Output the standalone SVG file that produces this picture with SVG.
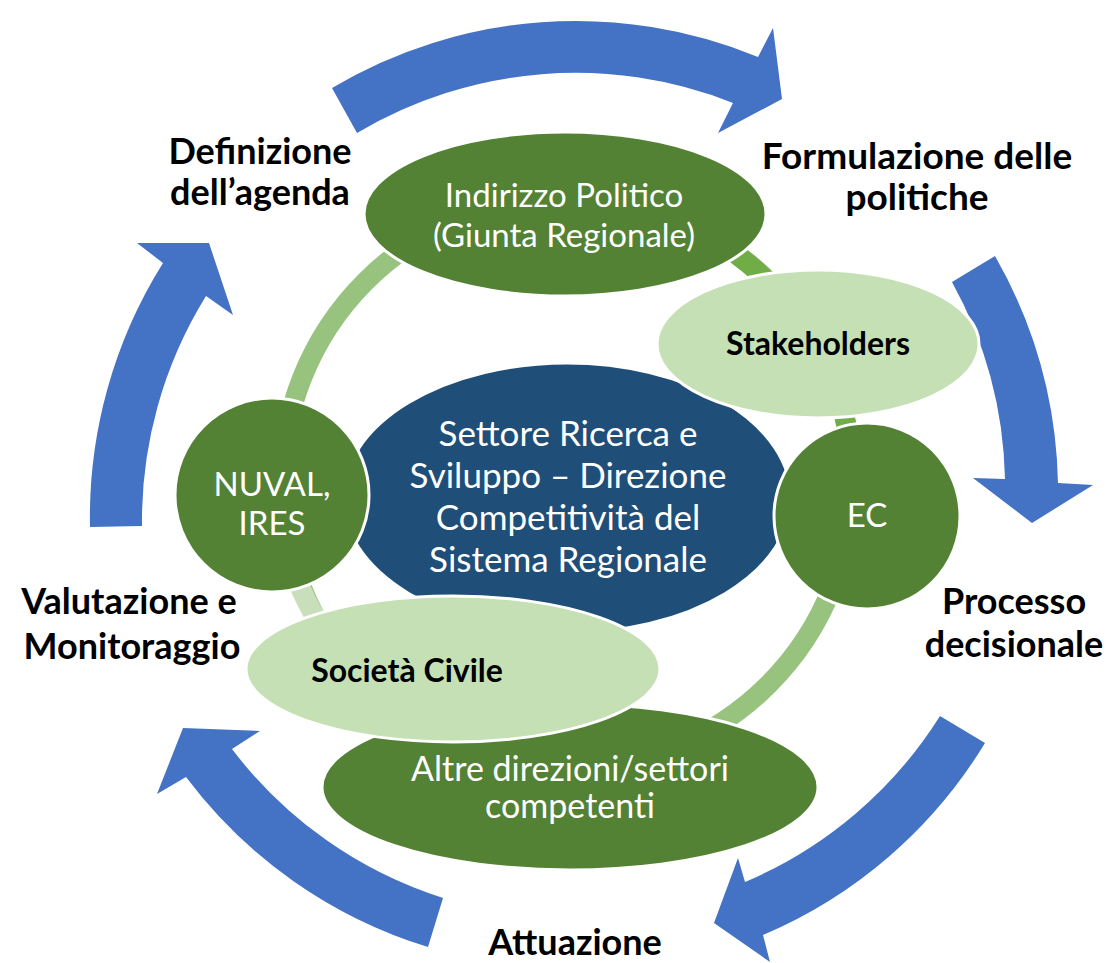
<svg xmlns="http://www.w3.org/2000/svg" width="1113" height="963" viewBox="0 0 1113 963">
<style>
.arrow{fill:#4472C4}
.dk{fill:#548235;stroke:#fff;stroke-width:3}
.lt{fill:#C5E0B4;stroke:#fff;stroke-width:3}
.bl{fill:#1F4E79;stroke:#fff;stroke-width:3}
.lbl{font-family:Lato,"Liberation Sans",sans-serif;font-weight:bold;font-size:36px;fill:#000;text-anchor:middle}
.wt{font-family:Lato,"Liberation Sans",sans-serif;font-size:33px;fill:#fff;text-anchor:middle}
.bk{font-family:Lato,"Liberation Sans",sans-serif;font-weight:bold;font-size:32px;fill:#000;text-anchor:middle}
</style>
<rect width="1113" height="963" fill="#fff"/>
<g id="connectors">
<circle cx="567" cy="483" r="285" fill="none" stroke="#97C37F" stroke-width="20"/>
<path d="M 724 246 A 285 285 0 0 1 848 432" fill="none" stroke="#70AD47" stroke-width="20"/>
<path d="M 290 560 A 285 285 0 0 0 330 640" fill="none" stroke="#C9DFBB" stroke-width="20"/>
<path class="arrow" d="M 332 88 A 478 478 0 0 1 758 57 L 773 28 L 782 99 L 718 133 L 733 103 A 427 427 0 0 0 357 133 Z"/>
<path class="arrow" d="M 995 256 A 478 478 0 0 1 1058 483 L 1093 485 L 1032 523 L 973 478 L 1005 479 A 427 427 0 0 0 952 282 Z"/>
<path class="arrow" d="M 985 743 A 478 478 0 0 1 763 935 L 770 962 L 714 923 L 738 858 L 745 882 A 427 427 0 0 0 940 716 Z"/>
<path class="arrow" d="M 428 947 A 478 478 0 0 1 186 777 L 157 794 L 183 728 L 260 731 L 232 749 A 427 427 0 0 0 443 898 Z"/>
<path class="arrow" d="M 90 527 A 478 478 0 0 1 163 263 L 137 243 L 209 243 L 233 315 L 206 296 A 427 427 0 0 0 142 526 Z"/>
</g>
<g id="center">
<ellipse class="bl" cx="567" cy="498" rx="224" ry="135"/>
<text class="wt" x="568" y="446" style="font-size:35px">Settore Ricerca e</text>
<text class="wt" x="568" y="488" style="font-size:35px">Sviluppo – Direzione</text>
<text class="wt" x="568" y="530" style="font-size:35px">Competitività del</text>
<text class="wt" x="568" y="572" style="font-size:35px">Sistema Regionale</text>
</g>
<g id="indirizzo">
<ellipse class="dk" cx="565" cy="214" rx="201" ry="82"/>
<text class="wt" x="564" y="207">Indirizzo Politico</text>
<text class="wt" x="564" y="247">(Giunta Regionale)</text>
</g>
<g id="stakeholders">
<ellipse class="lt" cx="818" cy="344" rx="161" ry="74"/>
<text class="bk" x="818" y="355">Stakeholders</text>
</g>
<g id="altre">
<ellipse class="dk" cx="570" cy="787" rx="248" ry="83"/>
<text class="wt" x="570" y="781" style="font-size:34px">Altre direzioni/settori</text>
<text class="wt" x="570" y="818" style="font-size:34px">competenti</text>
</g>
<g id="societa">
<ellipse class="lt" cx="453" cy="669" rx="207" ry="73"/>
<text class="bk" x="407" y="682">Società Civile</text>
</g>
<g id="nuval">
<circle class="dk" cx="272" cy="495" r="97"/>
<text class="wt" x="272" y="496">NUVAL,</text>
<text class="wt" x="272" y="535">IRES</text>
</g>
<g id="ec">
<circle class="dk" cx="867" cy="516" r="93"/>
<text class="wt" x="867" y="527">EC</text>
</g>
<g id="labels">
<text class="lbl" x="260" y="164">Definizione</text>
<text class="lbl" x="260" y="205">dell’agenda</text>
<text class="lbl" x="917" y="169" style="font-size:37px">Formulazione delle</text>
<text class="lbl" x="917" y="210" style="font-size:37px">politiche</text>
<text class="lbl" x="1014" y="614">Processo</text>
<text class="lbl" x="1014" y="657">decisionale</text>
<text class="lbl" x="129" y="614">Valutazione e</text>
<text class="lbl" x="132" y="659">Monitoraggio</text>
<text class="lbl" x="575" y="955">Attuazione</text>
</g>
</svg>
